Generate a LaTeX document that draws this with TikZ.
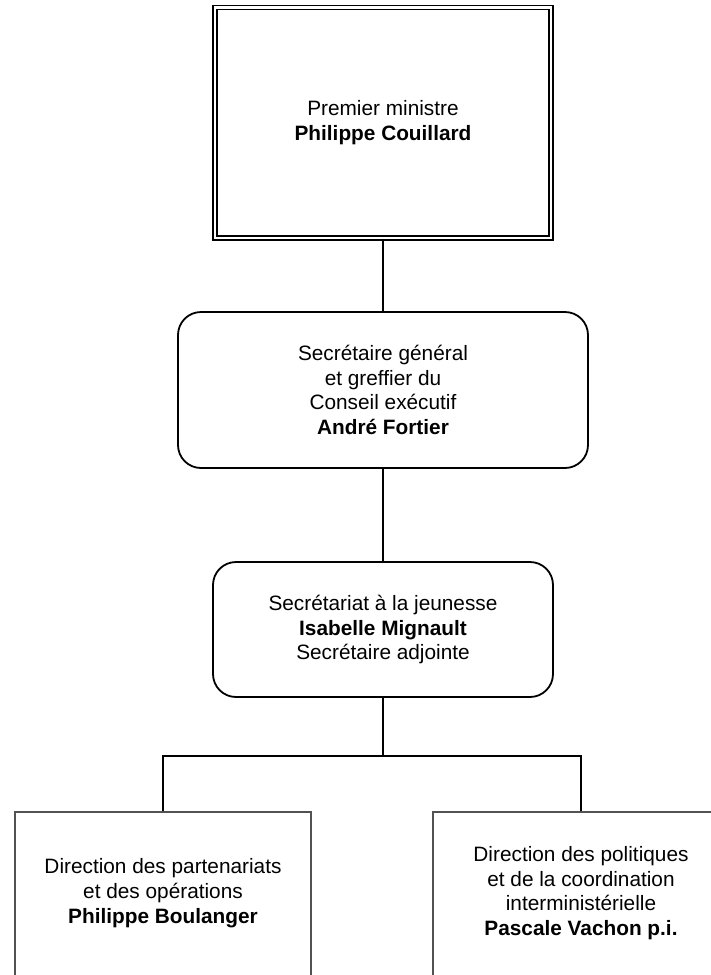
\documentclass[tikz,border=0pt]{standalone}
\usepackage{fontspec}
\setmainfont{Liberation Sans}
\begin{document}
\begin{tikzpicture}[x=1pt,y=1pt,
  txt/.style={align=center, font=\fontsize{20.8}{24.7}\selectfont, inner sep=0pt},
  dbox/.style={draw, double, double distance=2.7pt, line width=1.3pt, minimum width=336pt, minimum height=230.75pt, inner sep=0pt},
  rbox/.style={draw, line width=1.8pt, rounded corners=23pt, inner sep=0pt},
  sbox/.style={draw=black!68, line width=1.6pt, inner sep=0pt, minimum width=296pt, minimum height=180pt},
  conn/.style={line width=1.8pt}]
\useasboundingbox (0,0) rectangle (711,-975);
\clip (0,0) rectangle (711,-975);
\fill[white] (0,0) rectangle (711,-975);

\node[dbox, txt] (pm) at (383,-122.6) {Premier ministre\\\textbf{Philippe Couillard}};
\node[rbox, txt, minimum width=410pt, minimum height=156pt] (sg) at (383,-390)
  {Secrétaire général\\et greffier du\\Conseil exécutif\\\textbf{André Fortier}};
\node[rbox, txt, minimum width=340pt, minimum height=135pt] (sj) at (383,-629.5)
  {Secrétariat à la jeunesse\\\textbf{Isabelle Mignault}\\Secrétaire adjointe};

\node[sbox] (bl) at (163,-902) {};
\node[txt] (blt) at (163,-893) {Direction des partenariats\\et des opérations\\\textbf{Philippe Boulanger}};
\node[sbox] (br) at (581,-902) {};
\node[txt] (brt) at (581,-893) {Direction des politiques\\et de la coordination\\interministérielle\\\textbf{Pascale Vachon p.i.}};

\coordinate (bus) at (383,-756);
\draw[conn] (pm.south) -- (sg.north);
\draw[conn] (sg.south) -- (sj.north);
\draw[conn] (sj.south) -- (bus);
\draw[conn] (bl.north) |- (bus) -| (br.north);
\end{tikzpicture}
\end{document}
